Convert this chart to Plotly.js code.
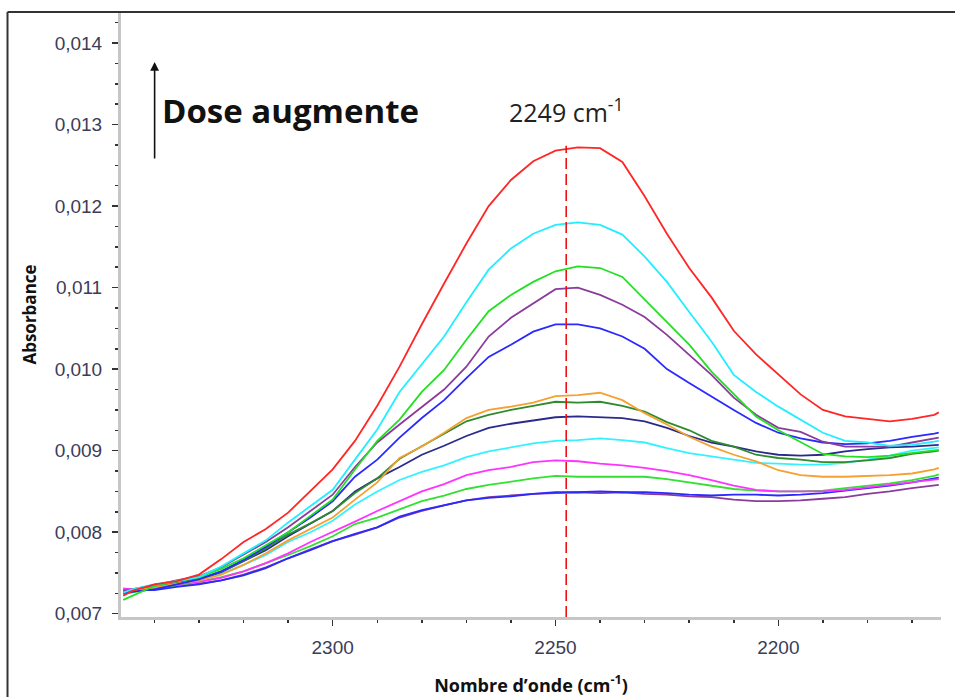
<!DOCTYPE html>
<html>
<head>
<meta charset="utf-8">
<script src="https://cdn.plot.ly/plotly-3.0.1.min.js"></script>
<style>html,body{margin:0;padding:0;background:#fff;}#chart{width:955px;height:697px;}</style>
</head>
<body>
<div id="chart"></div>
<script>
// Wavenumbers (cm-1)
const wavenumbers = [2347,2345,2340,2335,2330,2325,2320,2315,2310,2305,2300,2295,2290,2285,2280,2275,2270,2265,2260,2255,2250,2245,2240,2235,2230,2225,2220,2215,2210,2205,2200,2195,2190,2185,2180,2175,2170,2165,2164];

// Absorbance spectra (dose increasing)
const redSeries = [0.00722,0.00728,0.00736,0.00740,0.00748,0.00767,0.00788,0.00804,0.00824,0.00850,0.00877,0.00912,0.00955,0.01003,0.01055,0.01105,0.01154,0.01200,0.01232,0.01255,0.01268,0.01272,0.01271,0.01254,0.01212,0.01166,0.01124,0.01088,0.01047,0.01018,0.00993,0.00969,0.00950,0.00942,0.00939,0.00936,0.00939,0.00944,0.00947];
const cyanSeries = [0.00726,0.00730,0.00736,0.00740,0.00745,0.00758,0.00774,0.00790,0.00812,0.00832,0.00852,0.00889,0.00926,0.00972,0.01006,0.01040,0.01082,0.01122,0.01148,0.01166,0.01177,0.01180,0.01177,0.01165,0.01138,0.01107,0.01070,0.01034,0.00993,0.00972,0.00954,0.00938,0.00922,0.00912,0.00910,0.00906,0.00907,0.00911,0.00912];
const greenSeries = [0.00717,0.00722,0.00734,0.00740,0.00745,0.00755,0.00768,0.00784,0.00800,0.00820,0.00840,0.00877,0.00912,0.00938,0.00972,0.00999,0.01036,0.01071,0.01091,0.01107,0.01120,0.01126,0.01124,0.01113,0.01085,0.01058,0.01030,0.00997,0.00970,0.00942,0.00925,0.00910,0.00896,0.00893,0.00892,0.00894,0.00897,0.00900,0.00901];
const purpleSeries = [0.00728,0.00730,0.00735,0.00741,0.00746,0.00757,0.00772,0.00788,0.00806,0.00826,0.00846,0.00880,0.00910,0.00932,0.00954,0.00975,0.01003,0.01040,0.01063,0.01081,0.01098,0.01100,0.01091,0.01079,0.01064,0.01042,0.01018,0.00993,0.00965,0.00944,0.00928,0.00923,0.00911,0.00905,0.00905,0.00905,0.00910,0.00915,0.00916];
const blueSeries = [0.00726,0.00727,0.00730,0.00736,0.00742,0.00752,0.00766,0.00782,0.00800,0.00818,0.00838,0.00868,0.00889,0.00916,0.00940,0.00962,0.00989,0.01015,0.01030,0.01046,0.01055,0.01055,0.01050,0.01040,0.01025,0.01000,0.00983,0.00966,0.00950,0.00934,0.00922,0.00915,0.00910,0.00908,0.00909,0.00912,0.00917,0.00921,0.00922];
const orangeSeries = [0.00727,0.00728,0.00732,0.00737,0.00741,0.00748,0.00760,0.00774,0.00790,0.00804,0.00818,0.00840,0.00861,0.00891,0.00905,0.00922,0.00940,0.00950,0.00954,0.00959,0.00967,0.00968,0.00971,0.00962,0.00946,0.00932,0.00917,0.00905,0.00895,0.00887,0.00876,0.00870,0.00868,0.00868,0.00869,0.00870,0.00872,0.00877,0.00879];
const darkGreenSeries = [0.00725,0.00727,0.00733,0.00738,0.00743,0.00752,0.00765,0.00780,0.00797,0.00811,0.00826,0.00848,0.00866,0.00890,0.00905,0.00920,0.00936,0.00944,0.00950,0.00955,0.00960,0.00959,0.00960,0.00955,0.00948,0.00935,0.00925,0.00912,0.00905,0.00895,0.00891,0.00889,0.00886,0.00886,0.00888,0.00891,0.00896,0.00899,0.00900];
const navySeries = [0.00726,0.00727,0.00732,0.00737,0.00742,0.00751,0.00764,0.00778,0.00795,0.00810,0.00826,0.00850,0.00866,0.00880,0.00895,0.00906,0.00918,0.00928,0.00933,0.00937,0.00941,0.00942,0.00941,0.00940,0.00936,0.00928,0.00918,0.00910,0.00905,0.00899,0.00895,0.00894,0.00895,0.00899,0.00902,0.00904,0.00905,0.00906,0.00907];
const cyan2Series = [0.00728,0.00729,0.00733,0.00737,0.00741,0.00749,0.00760,0.00772,0.00788,0.00800,0.00814,0.00834,0.00850,0.00864,0.00874,0.00882,0.00892,0.00899,0.00904,0.00909,0.00912,0.00913,0.00915,0.00913,0.00910,0.00903,0.00897,0.00893,0.00889,0.00885,0.00884,0.00883,0.00883,0.00885,0.00889,0.00894,0.00900,0.00903,0.00904];
const magentaSeries = [0.00731,0.00730,0.00733,0.00736,0.00739,0.00744,0.00752,0.00762,0.00774,0.00788,0.00800,0.00813,0.00826,0.00838,0.00850,0.00859,0.00870,0.00876,0.00880,0.00886,0.00888,0.00887,0.00884,0.00882,0.00879,0.00875,0.00870,0.00864,0.00857,0.00852,0.00850,0.00850,0.00850,0.00852,0.00855,0.00858,0.00861,0.00864,0.00865];
const green2Series = [0.00724,0.00726,0.00731,0.00735,0.00739,0.00745,0.00752,0.00762,0.00772,0.00783,0.00795,0.00810,0.00818,0.00828,0.00838,0.00845,0.00853,0.00858,0.00862,0.00866,0.00869,0.00868,0.00868,0.00868,0.00868,0.00865,0.00861,0.00857,0.00853,0.00851,0.00850,0.00850,0.00851,0.00854,0.00857,0.00860,0.00864,0.00869,0.00871];
const blue2Series = [0.00728,0.00729,0.00729,0.00733,0.00736,0.00741,0.00747,0.00756,0.00768,0.00778,0.00789,0.00798,0.00806,0.00819,0.00827,0.00833,0.00839,0.00842,0.00844,0.00847,0.00849,0.00849,0.00850,0.00849,0.00849,0.00848,0.00846,0.00845,0.00846,0.00846,0.00845,0.00846,0.00848,0.00851,0.00854,0.00857,0.00861,0.00866,0.00867];
const purple2Series = [0.00730,0.00730,0.00731,0.00734,0.00737,0.00741,0.00748,0.00757,0.00768,0.00779,0.00789,0.00797,0.00806,0.00818,0.00826,0.00833,0.00839,0.00843,0.00845,0.00847,0.00848,0.00849,0.00848,0.00849,0.00847,0.00846,0.00844,0.00843,0.00840,0.00838,0.00838,0.00839,0.00841,0.00843,0.00847,0.00850,0.00854,0.00857,0.00858];

const seriesList = [purple2Series, blue2Series, green2Series, magentaSeries, cyan2Series, navySeries, darkGreenSeries, orangeSeries, blueSeries, purpleSeries, greenSeries, cyanSeries, redSeries];
const seriesColors = ['#8a3c9c','#2a2aff','#33e033','#ff33ff','#33f2ff','#2a2a8c','#2e8b2e','#f5a030','#2a2aff','#8a3c9c','#22e022','#22eeff','#ff2626'];

const peakWavenumber = 2247.6;
const peakLabel = '2249 cm<sup>-1</sup>';
const yTickVals = [0.007,0.008,0.009,0.010,0.011,0.012,0.013,0.014];
const xTickVals = [2300,2250,2200];

const traces = seriesList.map((s, i) => ({
  x: wavenumbers, y: s, type: 'scatter', mode: 'lines',
  line: {color: seriesColors[i], width: 1.8}, hoverinfo: 'skip', showlegend: false
}));

const tickFont = {family: 'Liberation Sans, Arial, sans-serif', size: 19, color: '#3c3c58'};

const layout = {
  width: 955, height: 697,
  margin: {l: 121.4, r: 14, t: 12, b: 79.5},
  paper_bgcolor: '#ffffff', plot_bgcolor: '#ffffff',
  separators: ',.',
  font: {family: 'Liberation Sans, Arial, sans-serif', color: '#3c3c58', size: 14},
  xaxis: {
    range: [2347.5, 2163.5], tickvals: xTickVals, ticktext: xTickVals.map(String),
    showgrid: false, zeroline: false, showline: true, linecolor: '#c6c6c6', linewidth: 3,
    ticks: 'outside', ticklen: 6, tickwidth: 1.5, tickcolor: '#333', ticklabelstandoff: 5,
    minor: {dtick: 10, tick0: 2300, ticks: 'outside', ticklen: 3, tickwidth: 1.5, tickcolor: '#333', showgrid: false},
    tickfont: tickFont,
    title: {text: 'Nombre d’onde (cm<sup>-1</sup>)', font: {family: 'Open Sans, sans-serif', size: 18, color: '#111', weight: 'bold'}, standoff: 24}
  },
  yaxis: {
    range: [0.00696, 0.01438], tickvals: yTickVals, tickformat: '.3f',
    showgrid: false, zeroline: false, showline: true, linecolor: '#c6c6c6', linewidth: 3,
    ticks: 'outside', ticklen: 6, tickwidth: 1.5, tickcolor: '#333', ticklabelstandoff: 6,
    minor: {dtick: 0.00025, tick0: 0.007, ticks: 'outside', ticklen: 3, tickwidth: 1.5, tickcolor: '#333', showgrid: false},
    tickfont: tickFont,
    title: {text: 'Absorbance', font: {family: 'Open Sans, sans-serif', size: 17, color: '#111', weight: 'bold'}, standoff: 14}
  },
  shapes: [
    {type: 'line', xref: 'x', yref: 'y', x0: peakWavenumber, x1: peakWavenumber, y0: 0.00696, y1: 0.01274,
     line: {color: '#ee1111', width: 1.6, dash: '11px,5px'}},
    {type: 'line', xref: 'paper', yref: 'paper', x0: -0.1384, x1: 1.02, y0: 1.0, y1: 1.0, line: {color: '#333', width: 2}},
    {type: 'line', xref: 'paper', yref: 'paper', x0: -0.1384, x1: -0.1384, y0: 1.0, y1: -0.2, line: {color: '#333', width: 2}}
  ],
  annotations: [
    {xref: 'paper', yref: 'paper', x: 0.041, y: 0.9174, ax: 0, ay: 98, axref: 'pixel', ayref: 'pixel',
     showarrow: true, arrowhead: 2, arrowsize: 1.1, arrowwidth: 1.6, arrowcolor: '#111', text: ''},
    {xref: 'paper', yref: 'paper', x: 0.0471, y: 0.8365, xanchor: 'left', yanchor: 'middle', showarrow: false,
     text: '<b>Dose augmente</b>', font: {family: 'Open Sans, sans-serif', size: 33, color: '#111'}},
    {xref: 'x', yref: 'paper', x: peakWavenumber, y: 0.8365, xanchor: 'center', yanchor: 'middle', showarrow: false,
     text: peakLabel, font: {family: 'Open Sans, sans-serif', size: 25, color: '#222'}}
  ]
};

Plotly.newPlot('chart', traces, layout, {displayModeBar: false, staticPlot: true});
</script>
</body>
</html>
